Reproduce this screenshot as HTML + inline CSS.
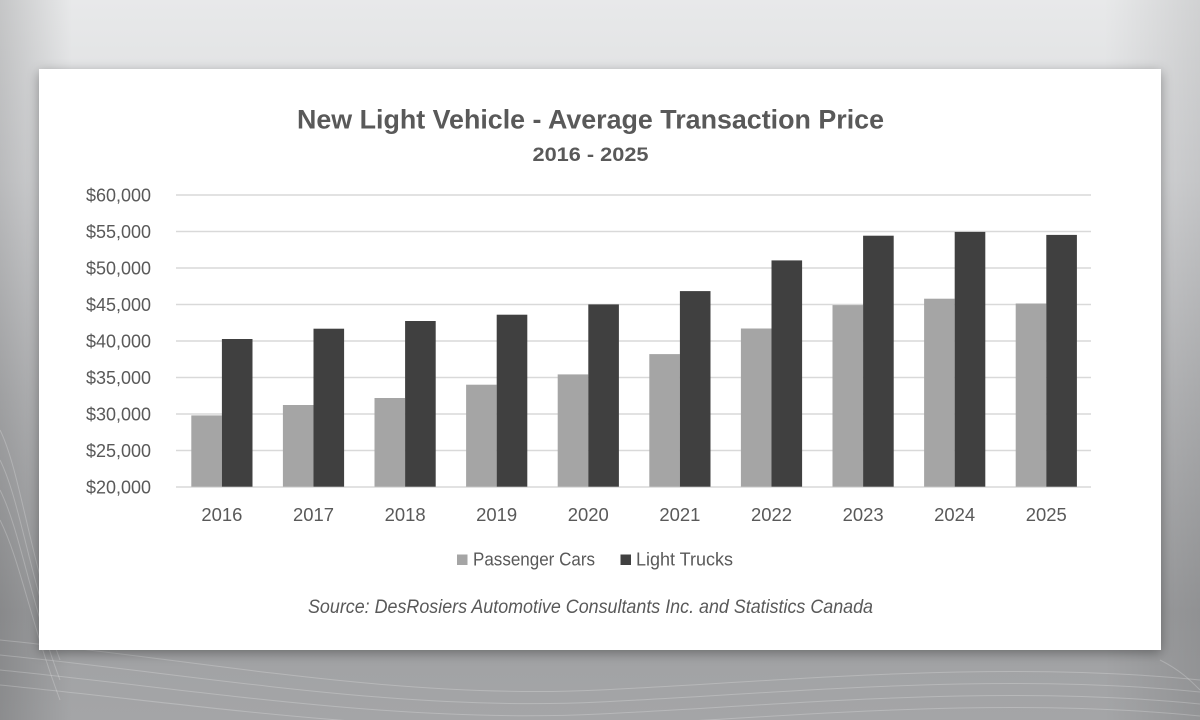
<!DOCTYPE html>
<html>
<head>
<meta charset="utf-8">
<style>
html,body{margin:0;padding:0;width:1200px;height:720px;overflow:hidden;}
svg{display:block;}
text{font-family:"Liberation Sans",sans-serif;fill:#595959;}
</style>
</head>
<body>
<svg width="1200" height="720" viewBox="0 0 1200 720" xmlns="http://www.w3.org/2000/svg">
<defs>
<linearGradient id="bg" x1="0" y1="0" x2="0" y2="1">
<stop offset="0" stop-color="#e8e9ea"/>
<stop offset="0.25" stop-color="#dadbdd"/>
<stop offset="0.55" stop-color="#bbbcbe"/>
<stop offset="0.85" stop-color="#a0a1a3"/>
<stop offset="1" stop-color="#a4a5a7"/>
</linearGradient>
<linearGradient id="side" x1="0" y1="0" x2="1" y2="0">
<stop offset="0" stop-color="#000" stop-opacity="0.15"/>
<stop offset="0.06" stop-color="#000" stop-opacity="0"/>
<stop offset="0.92" stop-color="#000" stop-opacity="0"/>
<stop offset="1" stop-color="#000" stop-opacity="0.1"/>
</linearGradient>
<filter id="sh" x="-5%" y="-5%" width="110%" height="115%">
<feGaussianBlur in="SourceAlpha" stdDeviation="6"/>
<feOffset dx="0" dy="3"/>
<feComponentTransfer><feFuncA type="linear" slope="0.35"/></feComponentTransfer>
<feMerge><feMergeNode/><feMergeNode in="SourceGraphic"/></feMerge>
</filter>
</defs>
<rect width="1200" height="720" fill="url(#bg)"/>
<rect width="1200" height="720" fill="url(#side)"/>
<g fill="none" stroke="#ffffff" stroke-opacity="0.22" stroke-width="1">
<path d="M0,640 C200,660 400,700 600,690 S1000,660 1200,680"/>
<path d="M0,655 C200,675 400,712 600,702 S1000,672 1200,692"/>
<path d="M0,670 C200,690 400,724 600,714 S1000,684 1200,704"/>
<path d="M0,685 C200,705 400,736 600,726 S1000,696 1200,716"/>
<path d="M0,430 C20,470 30,560 60,640"/>
<path d="M0,460 C20,500 30,580 60,660"/>
<path d="M0,490 C20,530 30,600 60,680"/>
<path d="M0,520 C20,560 30,620 60,700"/>
<path d="M1160,660 C1180,670 1190,680 1200,690"/>
</g>
<rect x="39" y="69" width="1122" height="581" fill="#ffffff" filter="url(#sh)"/>

<text x="590.5" y="128.5" text-anchor="middle" font-size="27" font-weight="bold" textLength="587" lengthAdjust="spacingAndGlyphs">New Light Vehicle - Average Transaction Price</text>
<text x="590.5" y="161" text-anchor="middle" font-size="19" font-weight="bold" textLength="116" lengthAdjust="spacingAndGlyphs">2016 - 2025</text>

<g stroke="#d9d9d9" stroke-width="1.5">
<line x1="176" y1="195" x2="1091" y2="195"/>
<line x1="176" y1="231.5" x2="1091" y2="231.5"/>
<line x1="176" y1="268" x2="1091" y2="268"/>
<line x1="176" y1="304.5" x2="1091" y2="304.5"/>
<line x1="176" y1="341" x2="1091" y2="341"/>
<line x1="176" y1="377.5" x2="1091" y2="377.5"/>
<line x1="176" y1="414" x2="1091" y2="414"/>
<line x1="176" y1="450.5" x2="1091" y2="450.5"/>
<line x1="176" y1="487" x2="1091" y2="487"/>
</g>

<g font-size="18" text-anchor="end">
<text x="151" y="201.5" textLength="65" lengthAdjust="spacingAndGlyphs">$60,000</text>
<text x="151" y="238" textLength="65" lengthAdjust="spacingAndGlyphs">$55,000</text>
<text x="151" y="274.5" textLength="65" lengthAdjust="spacingAndGlyphs">$50,000</text>
<text x="151" y="311" textLength="65" lengthAdjust="spacingAndGlyphs">$45,000</text>
<text x="151" y="347.5" textLength="65" lengthAdjust="spacingAndGlyphs">$40,000</text>
<text x="151" y="384" textLength="65" lengthAdjust="spacingAndGlyphs">$35,000</text>
<text x="151" y="420.5" textLength="65" lengthAdjust="spacingAndGlyphs">$30,000</text>
<text x="151" y="457" textLength="65" lengthAdjust="spacingAndGlyphs">$25,000</text>
<text x="151" y="493.5" textLength="65" lengthAdjust="spacingAndGlyphs">$20,000</text>
</g>

<g fill="#a5a5a5">
<rect x="191.3" y="415.4" width="30.6" height="71.3"/>
<rect x="282.9" y="405.0" width="30.6" height="81.7"/>
<rect x="374.5" y="398.0" width="30.6" height="88.7"/>
<rect x="466.1" y="384.7" width="30.6" height="102.0"/>
<rect x="557.7" y="374.4" width="30.6" height="112.3"/>
<rect x="649.3" y="354.1" width="30.6" height="132.6"/>
<rect x="740.9" y="328.5" width="30.6" height="158.2"/>
<rect x="832.5" y="305.1" width="30.6" height="181.6"/>
<rect x="924.1" y="298.7" width="30.6" height="188.0"/>
<rect x="1015.7" y="303.5" width="30.6" height="183.2"/>
</g>
<g fill="#404040">
<rect x="221.9" y="339.0" width="30.6" height="147.7"/>
<rect x="313.5" y="328.7" width="30.6" height="158.0"/>
<rect x="405.1" y="321.0" width="30.6" height="165.7"/>
<rect x="496.7" y="314.7" width="30.6" height="172.0"/>
<rect x="588.3" y="304.4" width="30.6" height="182.3"/>
<rect x="679.9" y="291.1" width="30.6" height="195.6"/>
<rect x="771.5" y="260.4" width="30.6" height="226.3"/>
<rect x="863.1" y="235.7" width="30.6" height="251.0"/>
<rect x="954.7" y="231.9" width="30.6" height="254.8"/>
<rect x="1046.3" y="234.9" width="30.6" height="251.8"/>
</g>

<g font-size="18" text-anchor="middle">
<text x="221.9" y="521" textLength="41" lengthAdjust="spacingAndGlyphs">2016</text>
<text x="313.5" y="521" textLength="41" lengthAdjust="spacingAndGlyphs">2017</text>
<text x="405.1" y="521" textLength="41" lengthAdjust="spacingAndGlyphs">2018</text>
<text x="496.7" y="521" textLength="41" lengthAdjust="spacingAndGlyphs">2019</text>
<text x="588.3" y="521" textLength="41" lengthAdjust="spacingAndGlyphs">2020</text>
<text x="679.9" y="521" textLength="41" lengthAdjust="spacingAndGlyphs">2021</text>
<text x="771.5" y="521" textLength="41" lengthAdjust="spacingAndGlyphs">2022</text>
<text x="863.1" y="521" textLength="41" lengthAdjust="spacingAndGlyphs">2023</text>
<text x="954.7" y="521" textLength="41" lengthAdjust="spacingAndGlyphs">2024</text>
<text x="1046.3" y="521" textLength="41" lengthAdjust="spacingAndGlyphs">2025</text>
</g>

<rect x="457" y="554.5" width="10.5" height="10.5" fill="#a5a5a5"/>
<text x="473" y="565.5" font-size="18" textLength="122" lengthAdjust="spacingAndGlyphs">Passenger Cars</text>
<rect x="620.5" y="554.5" width="10.5" height="10.5" fill="#404040"/>
<text x="636" y="565.5" font-size="18" textLength="97" lengthAdjust="spacingAndGlyphs">Light Trucks</text>

<text x="308" y="613" font-size="19" font-style="italic" textLength="565" lengthAdjust="spacingAndGlyphs">Source: DesRosiers Automotive Consultants Inc. and Statistics Canada</text>
</svg>
</body>
</html>
